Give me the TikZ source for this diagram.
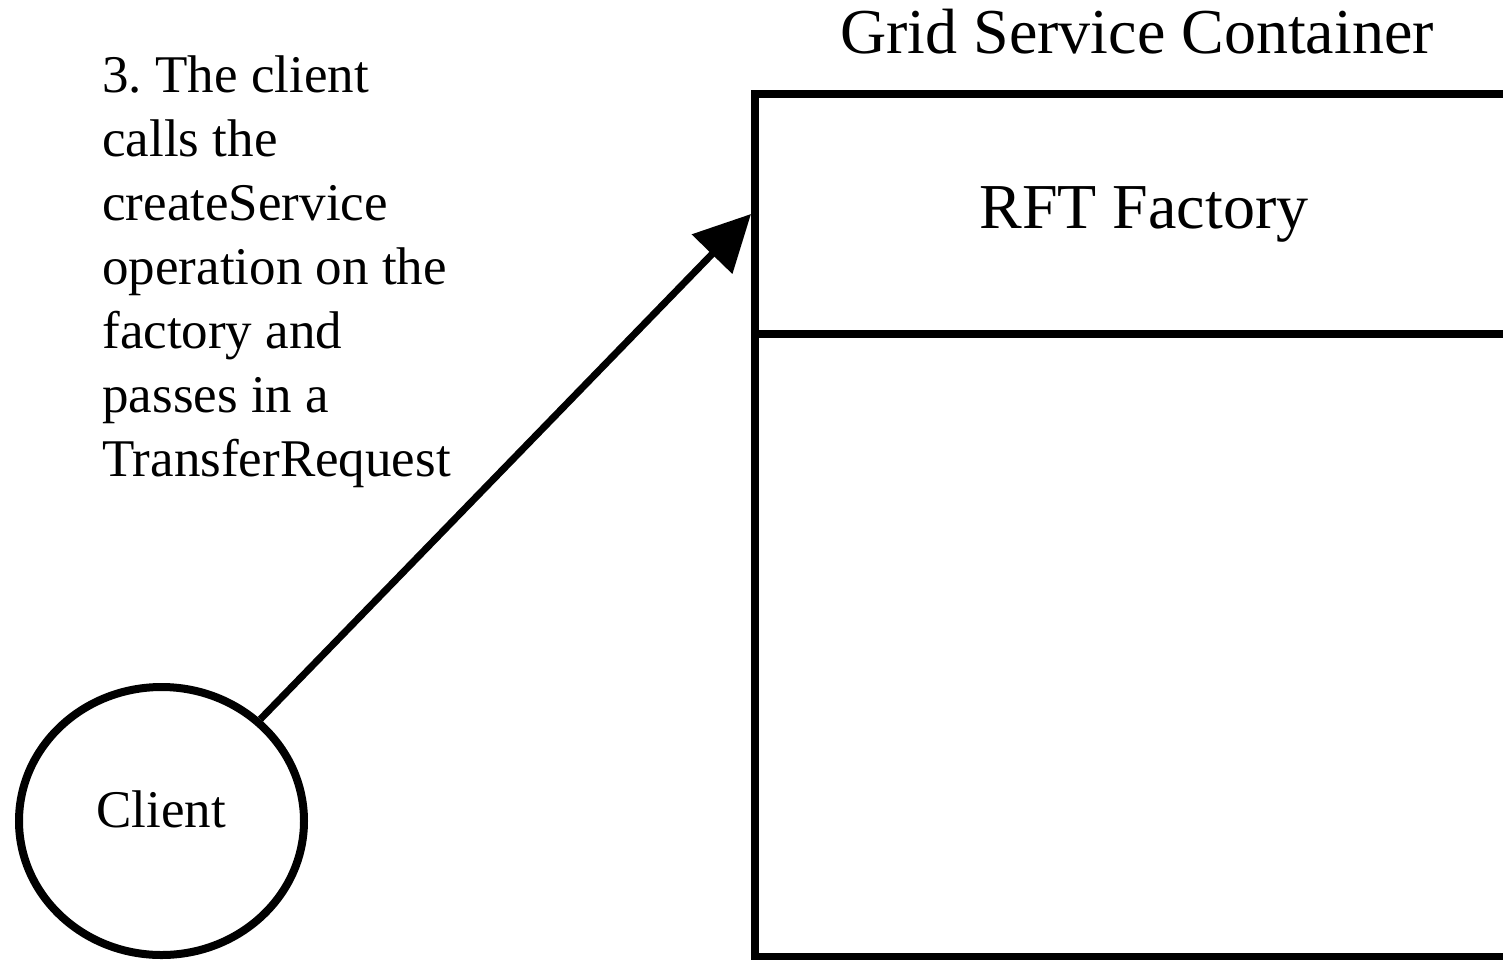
\documentclass[tikz,border=0pt]{standalone}
\usepackage{fontspec}
\setmainfont{Liberation Serif}
\usetikzlibrary{arrows.meta,shapes.geometric}

\tikzset{
  bigtext/.style={font=\fontsize{32}{38}\selectfont, inner sep=0pt},
  smalltext/.style={font=\fontsize{26.5}{32}\selectfont\frenchspacing, inner sep=0pt},
  box/.style={draw, line width=4pt, rectangle, inner sep=0pt},
  clientshape/.style={draw, ellipse, line width=4pt, inner sep=0pt,
    minimum width=142.5pt, minimum height=134pt},
  call/.style={line width=3.5pt, -{Triangle[length=28pt,width=27.5pt]}}
}

\begin{document}
\begin{tikzpicture}[x=0.5pt,y=-0.5pt]
  \useasboundingbox (0,0) rectangle (1503,959);
  \clip (0,0) rectangle (1503,959);
  \fill[white] (0,0) rectangle (1503,959);

  % container title
  \node[bigtext, anchor=base] (title) at (1137,53) {Grid Service Container};

  % container: factory compartment on top, empty compartment below
  \node[box, minimum width=380pt, minimum height=120pt] (factory) at (1135,214) {};
  \node[box, minimum width=380pt, minimum height=311.5pt] (lower) at (1135,645.5) {};
  \node[bigtext, anchor=base] (factorylabel) at (1144,228) {RFT Factory};

  % client
  \node[clientshape] (client) at (161.5,821) {};
  \node[smalltext, anchor=base] (clientlabel) at (161,827) {Client};

  % step description
  \node[smalltext, anchor=base west, text width=200pt, align=flush left] (note) at (102,92)
    {3. The client\\calls the\\createService\\operation on the\\factory and\\passes in a\\TransferRequest};

  % call from the client to the factory
  \coordinate (tip) at (751,214);
  \draw[call] (client) -- (tip);
\end{tikzpicture}
\end{document}
